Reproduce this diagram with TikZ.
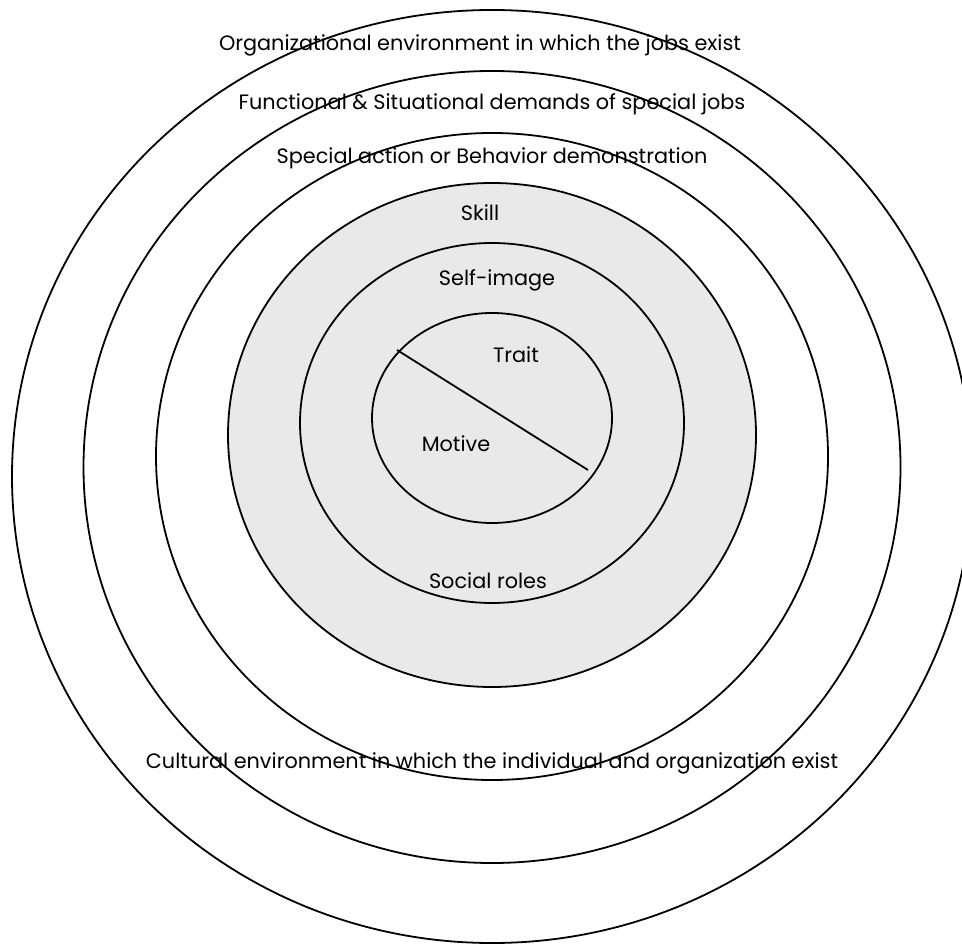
\documentclass[tikz,border=0pt]{standalone}
\usepackage{fontspec}
\setmainfont{Poppins}
\usepackage{tikz}
\usetikzlibrary{calc}
\usepackage{xcolor}
\definecolor{coregray}{HTML}{E9E9E9}

\begin{document}
\begin{tikzpicture}[x=0.5pt,y=-0.5pt,
		ring/.style={draw=black,line width=0.9pt},
		lbl/.style={inner sep=0pt,font=\fontsize{10.4}{12}\selectfont}]
			\clip (0,0) rectangle (962,945);
			\fill[white] (0,0) rectangle (962,945);
			% outer rings
			\foreach \rx/\ry/\cy in {480/466.5/476.5,408.5/396/467,336/323.5/456.5}
			\draw[ring] (492,\cy) ellipse [x radius=\rx, y radius=\ry];
			% shaded core
			\draw[ring,fill=coregray] (492,435) ellipse [x radius=264, y radius=252];
			\draw[ring,fill=coregray] (492,423) ellipse [x radius=192, y radius=180];
			\draw[ring,fill=coregray] (492,418) ellipse [x radius=120, y radius=105];
			\coordinate (cutA) at (397,350);
			\coordinate (cutB) at (588,470);
			\draw[ring] (cutA) -- (cutB);
			% labels
			\node[lbl] (org) at (480,45) {Organizational environment in which the jobs exist};
			\node[lbl] (func) at (492,104) {Functional \& Situational demands of special jobs};
			\node[lbl] (act) at (492,158) {Special action or Behavior demonstration};
			\node[lbl] (skill) at (480,213) {Skill};
			\node[lbl] (self) at (497,280) {Self-image};
			\node[lbl] (trait) at (516,355) {Trait};
			\node[lbl] (motive) at (456,444) {Motive};
			\node[lbl] (social) at (488,581) {Social roles};
			\node[lbl] (cult) at (492,763) {Cultural environment in which the individual and organization exist};
		\end{tikzpicture}
\end{document}
